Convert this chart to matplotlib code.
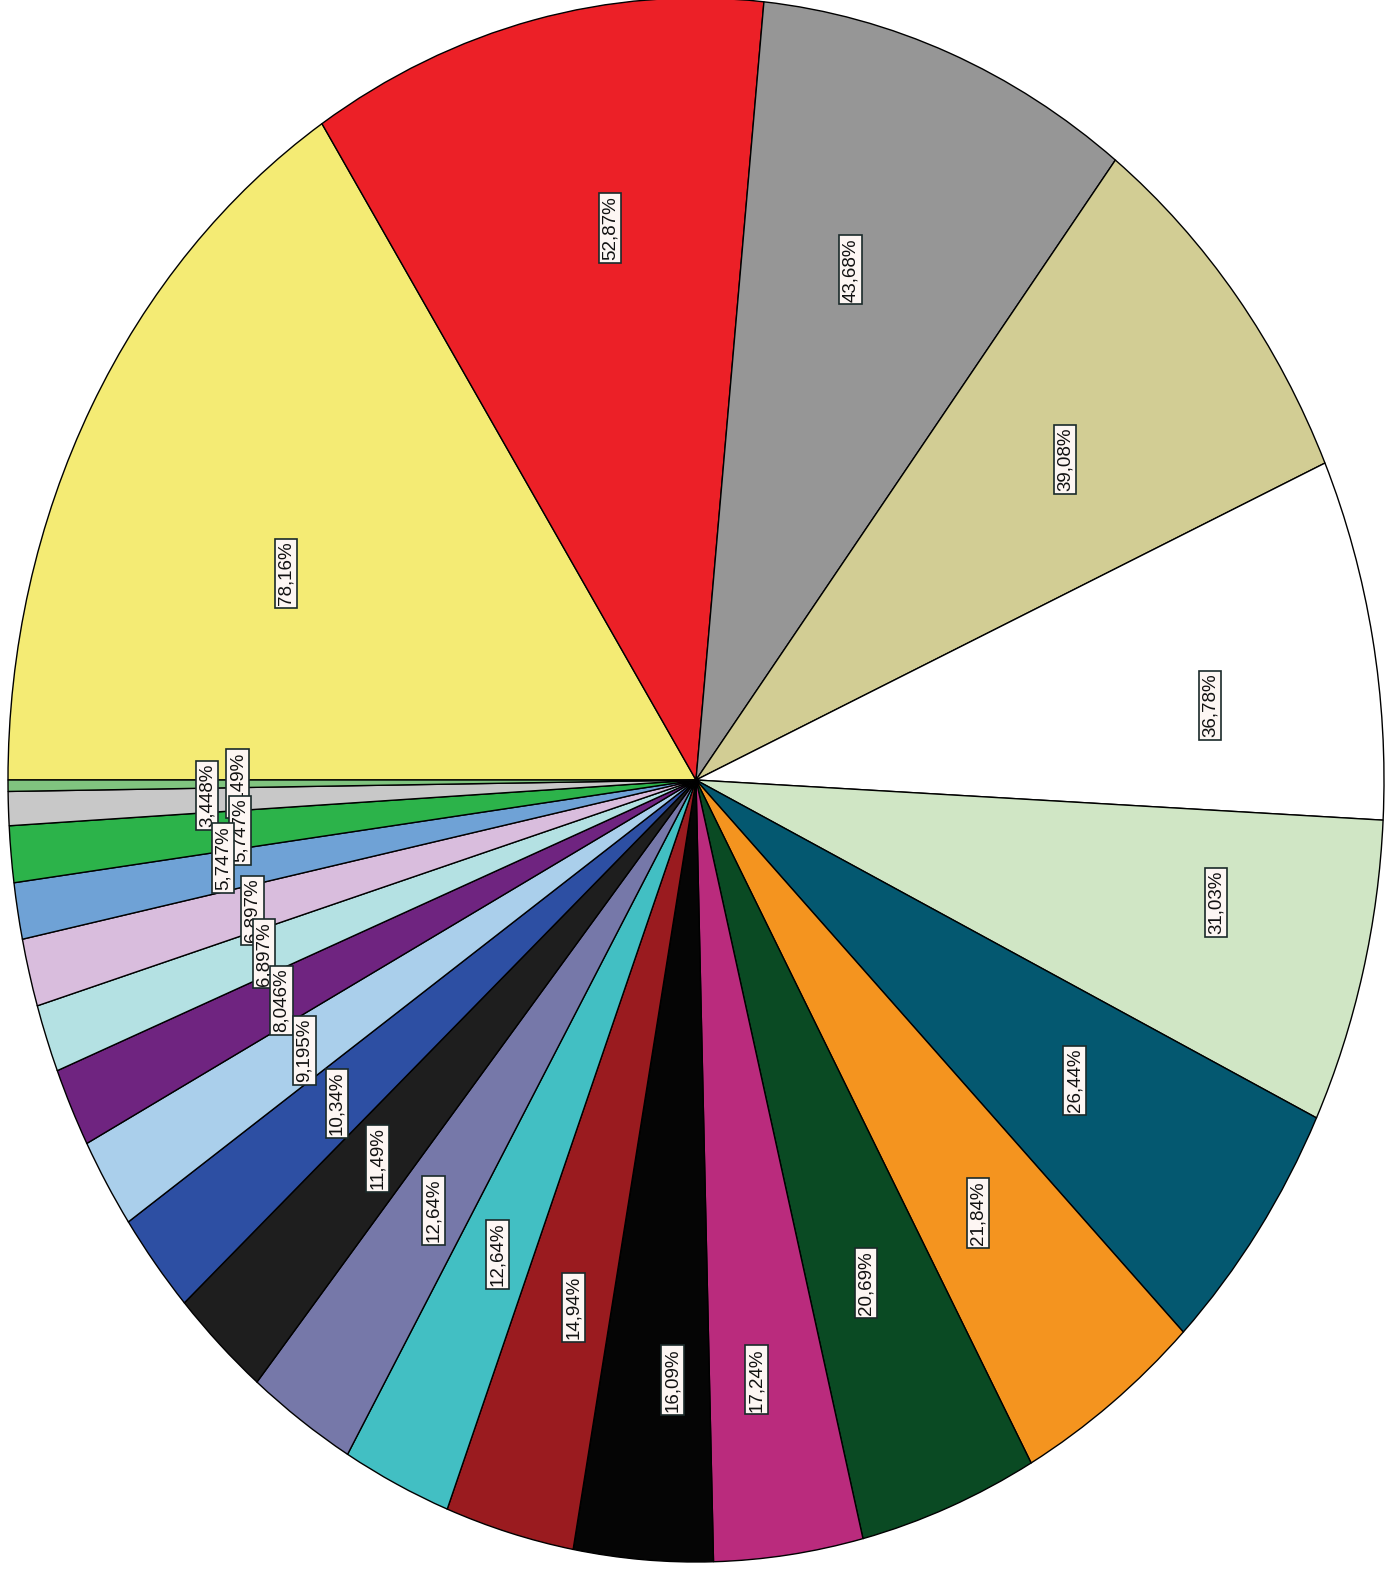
import matplotlib
matplotlib.use("Agg")
import matplotlib.pyplot as plt
import numpy as np

# Data (percent of cases), in drawing order (clockwise from 9 o'clock)
values = [78.16, 52.87, 43.68, 39.08, 36.78, 31.03, 26.44, 21.84, 20.69, 17.24,
          16.09, 14.94, 12.64, 12.64, 11.49, 10.34, 9.195, 8.046, 6.897, 6.897,
          5.747, 5.747, 3.448, 1.149]
colors = ['#F4EB74', '#EC2027', '#969696', '#D2CD94', '#FFFFFF', '#D0E6C5',
          '#045870', '#F4941F', '#0A4A23', '#BA2B7D', '#050505', '#9A1B1F',
          '#42BFC3', '#7678A9', '#1E1E1E', '#2D4FA3', '#AACFEB', '#6F2480',
          '#B4E1E3', '#D9BDDD', '#6FA2D6', '#2CB34A', '#C8C8C8', '#80C47F']

# label placement (radius fraction, angle offset in degrees)
label_r = [0.652, 0.717, 0.69, 0.675, 0.753, 0.772, 0.671, 0.689, 0.689, 0.772,
           0.768, 0.698, 0.672, 0.67, 0.67, 0.666, 0.666, 0.665, 0.666, 0.666,
           0.6945, 0.666, 0.711, 0.666]
label_da = [4.6, -3.6, 2.6, -0.8, -3.2, 2.6, 0.35, -0.6, -0.6, -1.2,
            1.9, 1.0, 0.4, 0.3, 0.1, 0.2, 0.2, 0.3, 0.2, 0.25,
            -1.4, 0.1, -0.55, 0.0]

W, H = 1395, 1569
fig = plt.figure(figsize=(W / 100, H / 100), dpi=100)
cx, cy, rx, ry = 696, 780, 688, 782
ax = fig.add_axes([(cx - rx) / W, (H - cy - ry) / H, 2 * rx / W, 2 * ry / H])

wedges, _ = ax.pie(values, colors=colors, startangle=180, counterclock=False,
                   wedgeprops=dict(edgecolor='black', linewidth=1.0),
                   radius=1.0, frame=False)
ax.set_aspect('auto')
ax.set_xlim(-1, 1)
ax.set_ylim(-1, 1)
ax.axis('off')

total = sum(values)
start = 180.0
for i, (v, r, da) in enumerate(zip(values, label_r, label_da)):
    span = v / total * 360.0
    mid = start - span / 2 + da
    start -= span
    x = r * np.cos(np.radians(mid))
    y = r * np.sin(np.radians(mid))
    txt = f"{v:.4g}".replace('.', ',') + '%'
    ax.text(x, y, txt, rotation=90, ha='center', va='center',
            fontsize=13.5, family='Liberation Sans', color='#111111',
            zorder=100 - i,
            bbox=dict(boxstyle='square,pad=0.15', facecolor='#FDF6F3',
                      edgecolor='#1A2A2A', linewidth=1.2))

fig.savefig('out.png', dpi=100, facecolor='white')
